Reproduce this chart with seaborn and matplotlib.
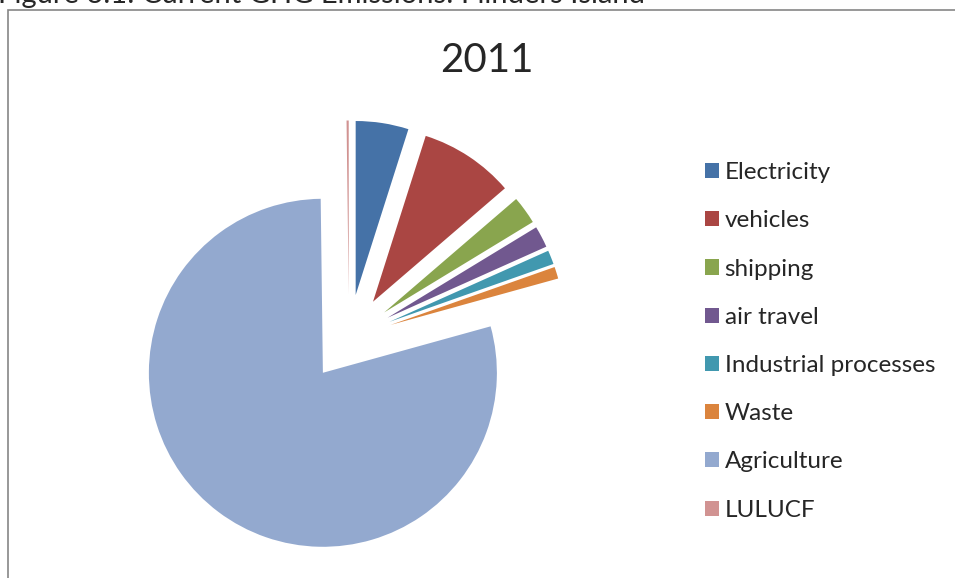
import matplotlib
matplotlib.use("Agg")
import matplotlib.pyplot as plt
import seaborn as sns
from matplotlib.patches import Rectangle

categories = ["Electricity", "vehicles", "shipping", "air travel",
              "Industrial processes", "Waste", "Agriculture", "LULUCF"]
values = [4.9, 8.8, 2.6, 2.0, 1.3, 1.1, 79.1, 0.2]
colors = ["#4572A7", "#AA4643", "#89A54E", "#71588F",
          "#4198AF", "#DB843D", "#93A9CF", "#D19392"]
title = "2011"
caption = "Figure 3.1: Current GHG Emissions: Flinders Island"

sns.set_theme(style="white")
plt.rcParams['font.family'] = ['Lato', 'DejaVu Sans']

W, H = 955, 578
fig = plt.figure(figsize=(W / 100, H / 100), dpi=100)
ax = fig.add_axes([0, 0, 1, 1])

R = 174
EXPLODE = 0.25 * R  # matplotlib offsets wedges in data units
wedges, _ = ax.pie(values, colors=colors, startangle=90, counterclock=False,
                   explode=[EXPLODE] * len(values), radius=R,
                   center=(349, H - 338),
                   wedgeprops=dict(linewidth=0, edgecolor="white"))
ax.set_xlim(0, W)
ax.set_ylim(0, H)
ax.set_aspect("auto")
ax.axis("off")

# chart frame
fig.patches.append(Rectangle((8 / W, -0.1), 1.2, (H - 10) / H + 0.1,
                             transform=fig.transFigure, fill=False,
                             edgecolor="#868686", linewidth=1.2))

fig.text(487 / W, 1 - 60 / H, title, ha="center", va="center", fontsize=29)
fig.text(-2 / W, 1 - 3 / H, caption, ha="left", va="baseline", fontsize=21)

leg = ax.legend(wedges, categories, loc="upper left",
                bbox_to_anchor=(693 / W, 1 - 150 / H), frameon=False,
                fontsize=17.5, handlelength=0.58, handleheight=0.58,
                handletextpad=0.22, labelspacing=1.12, borderpad=0)
plt.savefig("out.png", dpi=100)
